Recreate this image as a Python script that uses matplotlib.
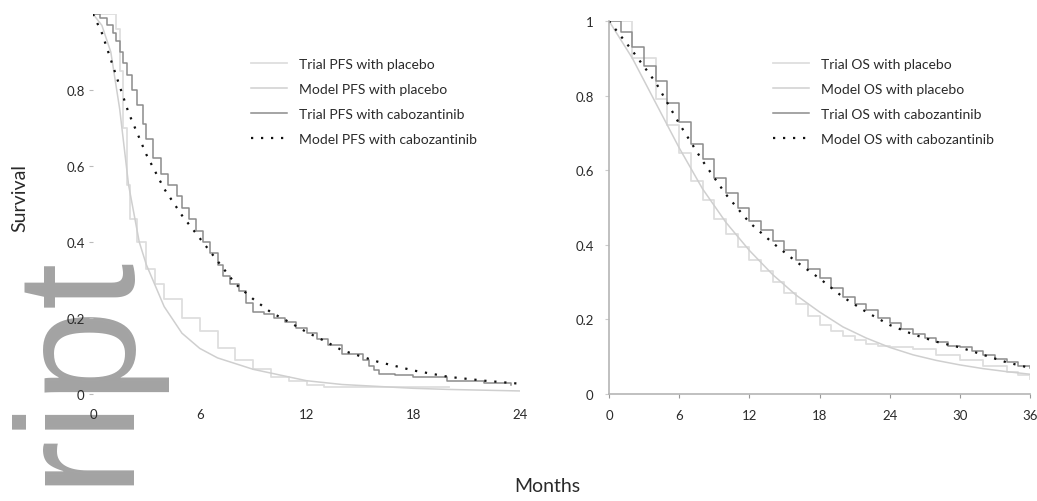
import matplotlib
matplotlib.use("Agg")
import matplotlib.pyplot as plt

# ---------------- data ----------------
# Left panel: progression-free survival (months 0-24)
pfs_trial_placebo_t = [0, 1.3, 1.5, 1.7, 1.9, 2.1, 2.5, 3.0, 3.5, 4.0, 5.0, 6.0, 7.0, 8.0, 9.0, 10.0, 11.0, 12.0, 13.0, 19.5, 20.0]
pfs_trial_placebo_s = [1.0, 0.96, 0.85, 0.70, 0.55, 0.46, 0.40, 0.33, 0.29, 0.25, 0.20, 0.165, 0.12, 0.09, 0.065, 0.045, 0.035, 0.025, 0.018, 0.018, 0.018]

pfs_model_placebo_t = [0, 0.5, 1, 1.5, 2, 2.6, 3, 4, 5, 6, 7, 8, 9, 10, 12, 14, 16, 18, 20, 22, 24]
pfs_model_placebo_s = [1.0, 0.97, 0.90, 0.75, 0.55, 0.40, 0.34, 0.23, 0.16, 0.12, 0.095, 0.08, 0.065, 0.055, 0.035, 0.025, 0.02, 0.015, 0.012, 0.01, 0.008]

pfs_trial_cabo_t = [0, 0.4, 0.8, 1.1, 1.3, 1.5, 1.7, 1.9, 2.2, 2.5, 2.8, 3.0, 3.4, 3.8, 4.2, 4.7, 5.0, 5.4, 5.8, 6.2,
                    6.6, 7.0, 7.3, 7.7, 8.2, 8.6, 9.0, 9.6, 10.2, 10.8, 11.4, 12.0, 12.6, 13.2, 14.0, 15.2, 15.5, 15.8,
                    16.1, 17.0, 18.0, 19.9, 22.0, 23.5]
pfs_trial_cabo_s = [1.0, 0.99, 0.97, 0.95, 0.93, 0.90, 0.87, 0.84, 0.80, 0.76, 0.71, 0.67, 0.62, 0.58, 0.55, 0.52, 0.49, 0.46, 0.43, 0.40,
                    0.37, 0.34, 0.31, 0.29, 0.27, 0.24, 0.215, 0.21, 0.20, 0.19, 0.175, 0.16, 0.145, 0.13, 0.105, 0.09, 0.075, 0.062,
                    0.053, 0.05, 0.045, 0.035, 0.03, 0.025]

pfs_model_cabo_t = [0, 0.5, 1, 1.5, 2, 3, 4, 5, 6, 7, 8, 9, 10, 11, 12, 13, 14, 16, 18, 20, 22, 24]
pfs_model_cabo_s = [1.0, 0.95, 0.88, 0.81, 0.74, 0.63, 0.54, 0.47, 0.41, 0.35, 0.29, 0.25, 0.215, 0.19, 0.163, 0.14, 0.115, 0.085, 0.062, 0.045, 0.035, 0.027]

# Right panel: overall survival (months 0-36)
os_trial_placebo_t = [0, 2, 4, 5, 6, 7, 8, 9, 10, 11, 12, 13, 14, 15, 16, 17, 18, 19, 20, 21, 22, 23, 24, 26, 28, 30, 32, 34, 35, 36]
os_trial_placebo_s = [1.0, 0.90, 0.79, 0.72, 0.645, 0.57, 0.52, 0.47, 0.43, 0.395, 0.36, 0.33, 0.30, 0.27, 0.24, 0.21, 0.185, 0.17, 0.155, 0.145, 0.135, 0.13, 0.125, 0.12, 0.105, 0.09, 0.075, 0.06, 0.05, 0.04]

os_model_placebo_t = [0, 2, 4, 6, 8, 10, 12, 14, 16, 18, 20, 22, 24, 26, 28, 30, 32, 34, 36]
os_model_placebo_s = [1.0, 0.90, 0.78, 0.66, 0.55, 0.46, 0.385, 0.32, 0.265, 0.22, 0.18, 0.15, 0.125, 0.105, 0.09, 0.078, 0.068, 0.06, 0.053]

os_trial_cabo_t = [0, 1, 2, 3, 4, 5, 6, 7, 8, 9, 10, 11, 12, 13, 14, 15, 16, 17, 18, 19, 20, 21, 22, 23, 24, 25, 26, 27, 28, 29, 30, 31, 32, 33, 34, 35, 36]
os_trial_cabo_s = [1.0, 0.97, 0.93, 0.88, 0.84, 0.78, 0.73, 0.67, 0.63, 0.58, 0.54, 0.50, 0.465, 0.44, 0.41, 0.385, 0.36, 0.335, 0.31, 0.285, 0.26, 0.24, 0.225, 0.205, 0.19, 0.175, 0.16, 0.15, 0.14, 0.13, 0.125, 0.115, 0.105, 0.095, 0.085, 0.075, 0.07]

os_model_cabo_t = [0, 2, 4, 6, 8, 10, 12, 14, 16, 18, 20, 22, 24, 26, 28, 30, 32, 34, 36]
os_model_cabo_s = [1.0, 0.92, 0.835, 0.725, 0.625, 0.535, 0.46, 0.405, 0.355, 0.31, 0.26, 0.22, 0.185, 0.16, 0.14, 0.125, 0.105, 0.085, 0.07]

pfs_labels = ["Trial PFS with placebo", "Model PFS with placebo",
              "Trial PFS with cabozantinib", "Model PFS with cabozantinib"]
os_labels = ["Trial OS with placebo", "Model OS with placebo",
             "Trial OS with cabozantinib", "Model OS with cabozantinib"]

pfs_xticks = [0, 6, 12, 18, 24]
os_xticks = [0, 6, 12, 18, 24, 30, 36]
pfs_yticks = [0, 0.2, 0.4, 0.6, 0.8]
pfs_yticklabels = ["0", "0.2", "0.4", "0.6", "0.8"]
os_yticks = [0, 0.2, 0.4, 0.6, 0.8, 1.0]
os_yticklabels = ["0", "0.2", "0.4", "0.6", "0.8", "1"]

# ---------------- style ----------------
plt.rcParams['font.family'] = ['Lato', 'DejaVu Sans']
TXT = '#2a2a2a'

W, H = 1037, 502
fig = plt.figure(figsize=(W / 100, H / 100), dpi=100)
fig.patch.set_facecolor('white')

# watermark (vertical, partly outside the canvas)
fig.text(121 / W, (H - 249) / H, "Manuscript", rotation=90, rotation_mode='anchor',
         ha='right', va='baseline', fontsize=121, color='#a3a3a3',
         family='Liberation Sans', zorder=-1)

ax1 = fig.add_axes([93 / W, 107 / H, 427 / W, 380 / H])
ax2 = fig.add_axes([609 / W, 107 / H, 421 / W, 373 / H])

styles = [
    dict(color='#dedede', lw=1.3, ls='-'),
    dict(color='#cfcfcf', lw=1.1, ls='-'),
    dict(color='#8c8c8c', lw=1.1, ls='-'),
    dict(color='#111111', lw=1.6, ls=(0, (1, 3.5))),
]

def plot_panel(ax, data, labels):
    for (t, s, step), st, lab in zip(data, styles, labels):
        ax.plot(t, s, drawstyle='steps-post' if step else 'default', label=lab, **st)

plot_panel(ax1, [(pfs_trial_placebo_t, pfs_trial_placebo_s, True),
                 (pfs_model_placebo_t, pfs_model_placebo_s, False),
                 (pfs_trial_cabo_t, pfs_trial_cabo_s, True),
                 (pfs_model_cabo_t, pfs_model_cabo_s, False)], pfs_labels)
plot_panel(ax2, [(os_trial_placebo_t, os_trial_placebo_s, True),
                 (os_model_placebo_t, os_model_placebo_s, False),
                 (os_trial_cabo_t, os_trial_cabo_s, True),
                 (os_model_cabo_t, os_model_cabo_s, False)], os_labels)

for ax in (ax1, ax2):
    ax.set_facecolor('none')
    ax.set_ylim(0, 1)
    ax.tick_params(labelsize=9.5, colors=TXT, length=3, width=0.8)
    ax.spines['top'].set_visible(False)
    ax.spines['right'].set_visible(False)

ax1.set_xlim(0, 24)
ax1.set_xticks(pfs_xticks)
ax1.set_yticks(pfs_yticks)
ax1.set_yticklabels(pfs_yticklabels)
ax1.spines['left'].set_visible(False)
ax1.spines['bottom'].set_visible(False)
ax1.tick_params(axis='x', length=0, pad=10)
ax1.tick_params(axis='y', color='#bbbbbb', pad=3)

ax2.set_xlim(0, 36)
ax2.set_xticks(os_xticks)
ax2.set_yticks(os_yticks)
ax2.set_yticklabels(os_yticklabels)
for sp in ('left', 'bottom'):
    ax2.spines[sp].set_color('#b5b5b5')
    ax2.spines[sp].set_linewidth(1.2)
ax2.tick_params(axis='x', color='#999999', pad=8)
ax2.tick_params(axis='y', color='#cccccc', pad=8)

leg_kw = dict(frameon=False, fontsize=10, handlelength=2.6, labelspacing=0.95,
              handletextpad=0.9, labelcolor=TXT)
ax1.legend(loc='upper left', bbox_to_anchor=(238 / W, (H - 46) / H),
           bbox_transform=fig.transFigure, **leg_kw)
ax2.legend(loc='upper left', bbox_to_anchor=(760 / W, (H - 46) / H),
           bbox_transform=fig.transFigure, **leg_kw)

fig.text(20 / W, (H - 198) / H, "Survival", rotation=90, ha='center', va='center',
         fontsize=14, color=TXT)
fig.text(547 / W, (H - 487) / H, "Months", ha='center', va='center',
         fontsize=14, color=TXT)

fig.savefig("out.png", dpi=100, facecolor='white')
